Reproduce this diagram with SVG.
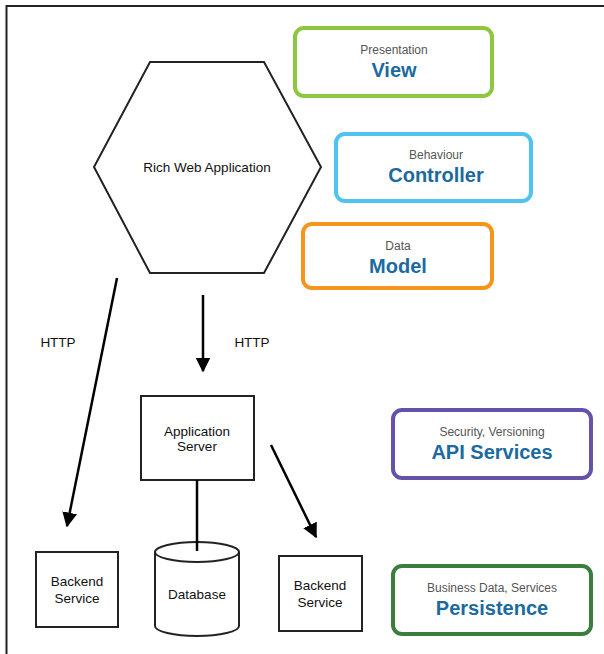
<svg xmlns="http://www.w3.org/2000/svg" width="604" height="654" viewBox="0 0 604 654">
<defs>
<style>
.t{font-family:"Liberation Sans",Arial,sans-serif;font-size:13.5px;fill:#111;text-anchor:middle}
.s{font-family:"Liberation Sans",Arial,sans-serif;font-size:12px;fill:#555;text-anchor:middle}
.b{font-family:"Liberation Sans",Arial,sans-serif;font-size:20px;font-weight:bold;fill:#1b6aa0;text-anchor:middle}
.box{fill:#fff;stroke-width:4}
.shape{fill:#fff;stroke:#222;stroke-width:2}
.conn{stroke:#000;stroke-width:2.5;fill:none}
</style>
<marker id="ah" viewBox="0 0 10 10" refX="9" refY="5" markerWidth="6" markerHeight="6" orient="auto" markerUnits="strokeWidth">
<path d="M0,0 L10,5 L0,10 z" fill="#000"/>
</marker>
</defs>
<rect width="604" height="654" fill="#fff"/>
<path d="M6.5,654 V6 H604" fill="none" stroke="#222" stroke-width="2"/>

<g id="hexagon">
<polygon class="shape" points="150,62 264,62 321,167 264,273 150,273 94,167"/>
<text class="t" x="207" y="172">Rich Web Application</text>
</g>

<g id="view">
<rect class="box" x="295" y="28" width="197" height="68" rx="9" stroke="#8dc63f"/>
<text class="s" x="394" y="54">Presentation</text>
<text class="b" x="394" y="77">View</text>
</g>
<g id="controller">
<rect class="box" x="336" y="134" width="195" height="67" rx="9" stroke="#4fc3f0"/>
<text class="s" x="436" y="159">Behaviour</text>
<text class="b" x="436" y="182">Controller</text>
</g>
<g id="model">
<rect class="box" x="303" y="224" width="189" height="64" rx="9" stroke="#f7941d"/>
<text class="s" x="398" y="250">Data</text>
<text class="b" x="398" y="273">Model</text>
</g>
<g id="api">
<rect class="box" x="393" y="410" width="198" height="68" rx="9" stroke="#6652a8"/>
<text class="s" x="492" y="436">Security, Versioning</text>
<text class="b" x="492" y="459">API Services</text>
</g>
<g id="persistence">
<rect class="box" x="393" y="566" width="198" height="68" rx="9" stroke="#3a7d3c"/>
<text class="s" x="492" y="592">Business Data, Services</text>
<text class="b" x="492" y="615">Persistence</text>
</g>

<g id="appserver">
<rect class="shape" x="141" y="396" width="113" height="84"/>
<text class="t" x="197" y="436">Application</text>
<text class="t" x="197" y="451">Server</text>
</g>
<g id="backend1">
<rect class="shape" x="36" y="552" width="82" height="75"/>
<text class="t" x="77" y="586">Backend</text>
<text class="t" x="77" y="603">Service</text>
</g>
<g id="database">
<path class="shape" d="M155,552 V626 A42,10 0 0 0 239,626 V552 A42,10 0 0 0 155,552 A42,10 0 0 0 239,552"/>
<text class="t" x="197" y="599">Database</text>
</g>
<g id="backend2">
<rect class="shape" x="279" y="556" width="83" height="75"/>
<text class="t" x="320" y="590">Backend</text>
<text class="t" x="320" y="607">Service</text>
</g>

<g id="connectors">
<line class="conn" x1="117" y1="278" x2="67" y2="526" marker-end="url(#ah)"/>
<line class="conn" x1="203" y1="295" x2="203" y2="371" marker-end="url(#ah)"/>
<line class="conn" x1="197" y1="480" x2="197" y2="551"/>
<line class="conn" x1="271" y1="445" x2="316" y2="537" marker-end="url(#ah)"/>
<text class="t" x="58" y="347">HTTP</text>
<text class="t" x="252" y="347">HTTP</text>
</g>
</svg>
